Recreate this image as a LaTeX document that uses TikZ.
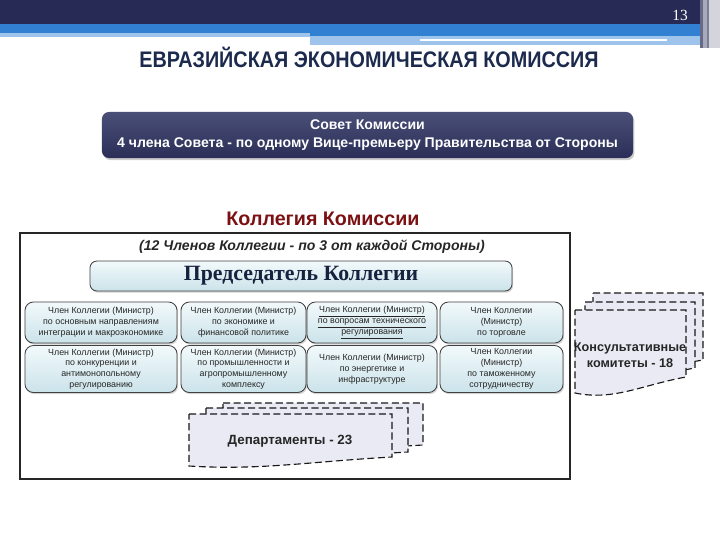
\documentclass[tikz,border=0pt]{standalone}
\usepackage{fontspec}
\setmainfont{Liberation Sans}
\newfontfamily\serifru{Liberation Serif}
\usetikzlibrary{shadows}

\definecolor{navy}{HTML}{262A54}
\definecolor{bandblue}{HTML}{3180D2}
\definecolor{bandlight}{HTML}{9EC4EC}
\definecolor{titleblue}{HTML}{1C2A4E}
\definecolor{counciltop}{HTML}{4A4F78}
\definecolor{councilbot}{HTML}{2B2F58}
\definecolor{collred}{HTML}{7B1113}
\definecolor{boxtop}{HTML}{F2F9FB}
\definecolor{boxbot}{HTML}{CBE3EA}
\definecolor{pagefill}{HTML}{EAEAF4}

% one page of a stacked "document": x1, top, x2, bottom right, drop of the wave
\newcommand{\docpage}[5]{%
  \draw[docline] (#1,#2) -- (#3,#2) -- (#3,#4)
    .. controls ({#3-0.4*(#3-#1)},{#4+0.5*#5}) and ({#1+0.35*(#3-#1)},{#4+1.5*#5}) .. (#1,{#4+#5}) -- cycle;}

\tikzset{
  member/.style={draw=black!75, line width=0.6pt, rounded corners=6pt,
    top color=boxtop, bottom color=boxbot,
    drop shadow={shadow xshift=0.8pt, shadow yshift=-1.2pt, opacity=0.35},
    align=center, inner sep=1pt, text=black!85,
    font=\fontsize{6.3}{7.7}\selectfont},
  docline/.style={draw=black!90, line width=0.8pt, dash pattern=on 5pt off 2.5pt, fill=pagefill},
  doctext/.style={font=\bfseries\fontsize{9.5}{11}\selectfont, text=black!85, align=center}
}

\begin{document}
\begin{tikzpicture}[x=0.025cm, y=-0.025cm]
\useasboundingbox (0,0) rectangle (720,540);

% ================= HEADER BANDS =================
\fill[navy] (0,0) rectangle (700,24);
\fill[bandblue] (0,24) rectangle (700,33);
\fill[bandlight] (0,33) rectangle (310,37);
\fill[bandblue] (310,33) rectangle (700,36);
\fill[bandlight] (310,36) rectangle (700,45);
\fill[white] (420,39) rectangle (667,41);
\fill[navy!70] (700,0) rectangle (703,48);
\fill[navy!40] (703,0) rectangle (707,48);
\fill[navy!60] (707,0) rectangle (709,48);
\fill[navy!20] (709,0) rectangle (720,48);
\node[text=white, font=\serifru\fontsize{11}{11}\selectfont] (pagenum) at (680,15) {13};

% Title
\node[text=titleblue, font=\bfseries\fontsize{16}{16}\selectfont] (title) at (369,57)
  {\scalebox{0.88}[1]{ЕВРАЗИЙСКАЯ ЭКОНОМИЧЕСКАЯ КОМИССИЯ}};

% ================= COUNCIL =================
\node[rounded corners=5pt, top color=counciltop, bottom color=councilbot,
  drop shadow={shadow xshift=1pt, shadow yshift=-1.5pt, opacity=0.4},
  minimum width=13.275cm, minimum height=1.15cm, align=center, text=white,
  font=\bfseries\fontsize{10}{12.5}\selectfont] (council) at (367.5,135)
  {Совет Комиссии\\4 члена Совета - по одному Вице-премьеру Правительства от Стороны};

% ================= COLLEGIUM =================
\node[text=collred, font=\bfseries\fontsize{14}{15}\selectfont] (collegium) at (323,219) {Коллегия Комиссии};
\draw[black!85, line width=1.4pt] (20,233) rectangle (570,479);

\node[text=black!85, font=\bfseries\itshape\fontsize{10}{11}\selectfont] (members) at (312,247)
  {(12 Членов Коллегии - по 3 от каждой Стороны)};

\node[member, rounded corners=5pt, minimum width=10.55cm, minimum height=0.75cm,
  text=titleblue!80!black, font=\serifru\bfseries\fontsize{15.5}{16}\selectfont] (chair) at (301,276)
  {Председатель Коллегии};

% first row of ministers
\node[member, minimum width=3.8cm, minimum height=1.025cm] (m11) at (101,322.5)
  {Член Коллегии (Министр)\\по основным направлениям\\интеграции и макроэкономике};
\node[member, minimum width=3.125cm, minimum height=1.025cm] (m12) at (243.5,322.5)
  {Член Коллегии (Министр)\\по экономике и\\финансовой политике};
\node[member, minimum width=3.25cm, minimum height=1.025cm] (m13) at (372,322.5)
  {\underline{Член Коллегии (Министр)}\\\underline{по вопросам технического}\\\underline{регулирования}};
\node[member, minimum width=3.075cm, minimum height=1.025cm] (m14) at (501.5,322.5)
  {Член Коллегии\\(Министр)\\по торговле};

% second row of ministers
\node[member, minimum width=3.8cm, minimum height=1.175cm] (m21) at (101,369)
  {Член Коллегии (Министр)\\по конкуренции и\\антимонопольному\\регулированию};
\node[member, minimum width=3.125cm, minimum height=1.175cm] (m22) at (243.5,369)
  {Член Коллегии (Министр)\\по промышленности и\\агропромышленному\\комплексу};
\node[member, minimum width=3.25cm, minimum height=1.175cm] (m23) at (372,369)
  {Член Коллегии (Министр)\\по энергетике и\\инфраструктуре};
\node[member, minimum width=3.075cm, minimum height=1.175cm] (m24) at (501.5,369)
  {Член Коллегии\\(Министр)\\по таможенному\\сотрудничеству};

% ================= DEPARTMENTS =================
\docpage{223}{403}{423}{445}{9}
\docpage{206}{408}{408}{452}{9}
\docpage{189}{414}{392}{457}{9}
\node[doctext] (dept) at (290,441) {Департаменты - 23};

% ================= CONSULTATIVE COMMITTEES =================
\docpage{593}{293}{703}{360}{14}
\docpage{585}{302}{695}{368}{15}
\docpage{575}{310}{686}{377}{16}
\node[doctext, font=\bfseries\fontsize{9}{11}\selectfont] (consult) at (630,355)
  {Консультативные\\комитеты - 18};

\end{tikzpicture}
\end{document}
